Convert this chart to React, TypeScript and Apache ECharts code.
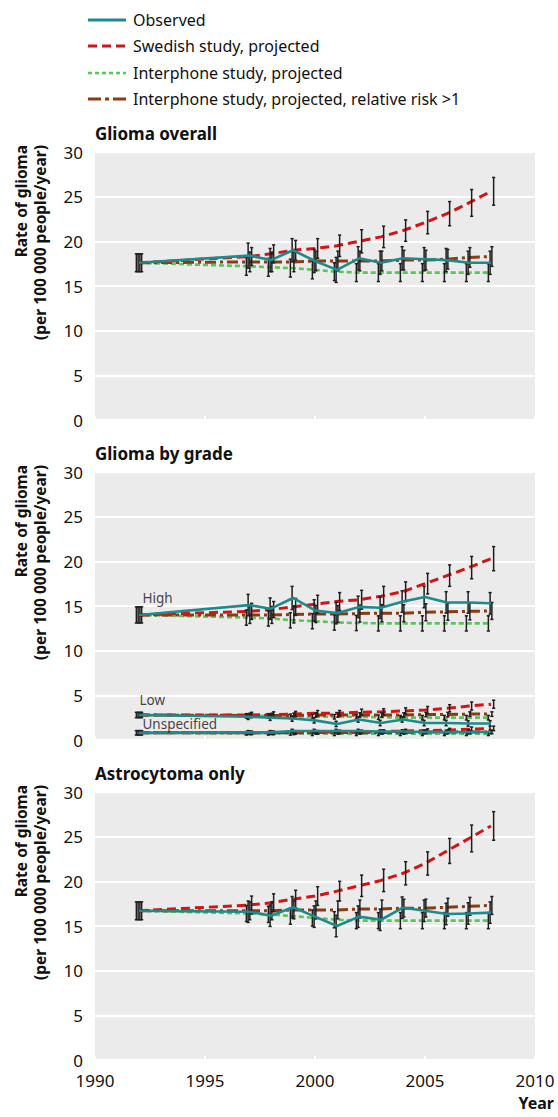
import React, { useEffect, useRef } from "react";
import * as echarts from "echarts";

const years = [1992, 1997, 1998, 1999, 2000, 2001, 2002, 2003, 2004, 2005, 2006, 2007, 2008];
const xTicks = [1990, 1995, 2000, 2005, 2010];
const yTicks = [0, 5, 10, 15, 20, 25, 30];

const legendNames = [
  "Observed",
  "Swedish study, projected",
  "Interphone study, projected",
  "Interphone study, projected, relative risk >1",
];
const panelTitles = ["Glioma overall", "Glioma by grade", "Astrocytoma only"];
const gradeLabels = ["High", "Low", "Unspecified"];

// Panel 1: glioma overall
const overallObserved = [17.6, 18.4, 17.9, 19.0, 17.8, 16.8, 18.1, 17.6, 18.1, 18.0, 17.9, 17.6, 17.6];
const overallSwedish = [17.6, 18.3, 18.6, 19.0, 19.2, 19.5, 20.0, 20.5, 21.2, 22.1, 23.1, 24.3, 25.6];
const overallInterphone = [17.6, 17.2, 17.1, 17.0, 16.8, 16.6, 16.5, 16.5, 16.5, 16.5, 16.5, 16.5, 16.5];
const overallInterphoneRR = [17.6, 17.7, 17.7, 17.7, 17.8, 17.8, 17.8, 17.8, 17.9, 17.9, 18.0, 18.2, 18.3];
const overallObservedCI = [1.0, 1.4, 1.3, 1.3, 1.3, 1.4, 1.3, 1.3, 1.3, 1.3, 1.3, 1.3, 1.3];
const overallSwedishCI = [1.0, 1.0, 1.0, 1.1, 1.1, 1.2, 1.3, 1.2, 1.2, 1.25, 1.35, 1.5, 1.55];
const overallInterphoneCI = [1.0, 1.0, 1.0, 1.0, 1.0, 1.0, 1.0, 1.0, 1.0, 1.0, 1.0, 1.0, 1.0];
const overallInterphoneRRCI = [1.0, 1.1, 1.1, 1.1, 1.1, 1.1, 1.1, 1.1, 1.1, 1.1, 1.1, 1.1, 1.1];

// Panel 2: glioma by grade
const highObserved = [14.0, 15.1, 14.7, 15.9, 14.5, 14.2, 14.9, 14.8, 15.5, 16.0, 15.4, 15.4, 15.3];
const highSwedish = [14.0, 14.4, 14.6, 14.9, 15.2, 15.5, 15.7, 16.1, 16.6, 17.5, 18.4, 19.3, 20.3];
const highInterphone = [14.0, 13.7, 13.6, 13.4, 13.3, 13.15, 13.1, 13.05, 13.05, 13.05, 13.05, 13.05, 13.05];
const highInterphoneRR = [14.0, 14.0, 14.0, 14.05, 14.1, 14.1, 14.15, 14.2, 14.2, 14.3, 14.35, 14.4, 14.45];
const highObservedCI = [0.9, 1.2, 1.2, 1.3, 1.2, 1.2, 1.2, 1.2, 1.2, 1.2, 1.2, 1.2, 1.2];
const highSwedishCI = [0.9, 0.9, 0.9, 0.95, 1.0, 1.0, 1.05, 1.1, 1.1, 1.15, 1.2, 1.25, 1.35];
const highInterphoneCI = [0.9, 0.85, 0.85, 0.85, 0.85, 0.85, 0.85, 0.85, 0.85, 0.85, 0.85, 0.85, 0.85];
const highInterphoneRRCI = [0.9, 0.95, 0.95, 0.95, 0.95, 0.95, 0.95, 0.95, 0.95, 0.95, 0.95, 0.95, 0.95];

const lowObserved = [2.8, 2.6, 2.5, 2.4, 2.2, 1.8, 2.3, 1.9, 2.3, 1.9, 1.9, 1.85, 1.85];
const lowSwedish = [2.8, 2.8, 2.85, 2.9, 3.0, 3.0, 3.1, 3.15, 3.25, 3.35, 3.55, 3.8, 4.0];
const lowInterphone = [2.8, 2.7, 2.7, 2.65, 2.6, 2.6, 2.6, 2.55, 2.5, 2.5, 2.5, 2.5, 2.5];
const lowInterphoneRR = [2.8, 2.75, 2.75, 2.75, 2.8, 2.8, 2.8, 2.8, 2.8, 2.85, 2.85, 2.9, 2.9];
const lowObservedCI = [0.3, 0.3, 0.3, 0.3, 0.3, 0.3, 0.3, 0.3, 0.3, 0.3, 0.3, 0.3, 0.3];
const lowSwedishCI = [0.3, 0.3, 0.3, 0.3, 0.3, 0.3, 0.35, 0.35, 0.35, 0.4, 0.4, 0.45, 0.45];
const lowInterphoneCI = [0.3, 0.25, 0.25, 0.25, 0.25, 0.25, 0.25, 0.25, 0.25, 0.25, 0.25, 0.25, 0.25];
const lowInterphoneRRCI = [0.3, 0.25, 0.25, 0.25, 0.25, 0.25, 0.25, 0.25, 0.25, 0.25, 0.25, 0.25, 0.25];

const unspecObserved = [0.8, 0.85, 0.85, 1.0, 1.0, 1.0, 1.0, 0.95, 0.95, 0.9, 0.9, 0.9, 0.9];
const unspecSwedish = [0.8, 0.8, 0.8, 0.85, 0.85, 0.9, 0.9, 0.95, 1.0, 1.05, 1.1, 1.2, 1.3];
const unspecInterphone = [0.8, 0.75, 0.75, 0.75, 0.7, 0.7, 0.7, 0.7, 0.7, 0.7, 0.7, 0.7, 0.7];
const unspecInterphoneRR = [0.8, 0.8, 0.8, 0.8, 0.85, 0.85, 0.85, 0.85, 0.85, 0.9, 0.9, 0.9, 0.9];
const unspecObservedCI = [0.25, 0.2, 0.2, 0.2, 0.2, 0.2, 0.2, 0.2, 0.2, 0.2, 0.2, 0.2, 0.2];
const unspecSwedishCI = [0.25, 0.2, 0.2, 0.2, 0.2, 0.2, 0.2, 0.2, 0.2, 0.2, 0.2, 0.25, 0.25];
const unspecInterphoneCI = [0.25, 0.2, 0.2, 0.2, 0.2, 0.2, 0.2, 0.2, 0.2, 0.2, 0.2, 0.2, 0.2];
const unspecInterphoneRRCI = [0.25, 0.2, 0.2, 0.2, 0.2, 0.2, 0.2, 0.2, 0.2, 0.2, 0.2, 0.2, 0.2];

// Panel 3: astrocytoma only
const astroObserved = [16.7, 16.6, 16.15, 17.1, 16.05, 15.0, 16.05, 15.7, 17.05, 16.7, 16.35, 16.4, 16.5];
const astroSwedish = [16.7, 17.35, 17.6, 18.0, 18.35, 18.9, 19.5, 20.1, 20.9, 22.0, 23.4, 24.8, 26.2];
const astroInterphone = [16.7, 16.4, 16.3, 16.1, 15.9, 15.7, 15.6, 15.6, 15.6, 15.6, 15.6, 15.6, 15.6];
const astroInterphoneRR = [16.7, 16.7, 16.7, 16.8, 16.8, 16.8, 16.9, 16.9, 17.0, 17.0, 17.1, 17.2, 17.3];
const astroObservedCI = [1.0, 1.2, 1.2, 1.2, 1.2, 1.2, 1.2, 1.2, 1.2, 1.2, 1.2, 1.2, 1.2];
const astroSwedishCI = [1.0, 1.0, 1.0, 1.0, 1.05, 1.1, 1.2, 1.25, 1.3, 1.3, 1.4, 1.5, 1.6];
const astroInterphoneCI = [1.0, 0.9, 0.9, 0.9, 0.9, 0.9, 0.9, 0.9, 0.9, 0.9, 0.9, 0.9, 0.9];
const astroInterphoneRRCI = [1.0, 1.0, 1.0, 1.0, 1.0, 1.0, 1.0, 1.0, 1.0, 1.0, 1.0, 1.0, 1.0];

const FONT = "Noto Sans";
const TEAL = "#1d8a8c";
const RED = "#d41414";
const GREEN = "#55c955";
const BROWN = "#8c3a10";
const BAR = "#1e1e1e";
const INK = "#111111";

type Group = {
  observed: number[]; swedish: number[]; inter: number[]; rr: number[];
  observedCI: number[]; swedishCI: number[]; interCI: number[]; rrCI: number[];
  label?: string; labelPos?: number[];
};

const panels: Group[][] = [
  [{ observed: overallObserved, swedish: overallSwedish, inter: overallInterphone, rr: overallInterphoneRR,
     observedCI: overallObservedCI, swedishCI: overallSwedishCI, interCI: overallInterphoneCI, rrCI: overallInterphoneRRCI }],
  [
    { observed: highObserved, swedish: highSwedish, inter: highInterphone, rr: highInterphoneRR,
      observedCI: highObservedCI, swedishCI: highSwedishCI, interCI: highInterphoneCI, rrCI: highInterphoneRRCI,
      label: gradeLabels[0], labelPos: [4, -16] },
    { observed: lowObserved, swedish: lowSwedish, inter: lowInterphone, rr: lowInterphoneRR,
      observedCI: lowObservedCI, swedishCI: lowSwedishCI, interCI: lowInterphoneCI, rrCI: lowInterphoneRRCI,
      label: gradeLabels[1], labelPos: [1, -14] },
    { observed: unspecObserved, swedish: unspecSwedish, inter: unspecInterphone, rr: unspecInterphoneRR,
      observedCI: unspecObservedCI, swedishCI: unspecSwedishCI, interCI: unspecInterphoneCI, rrCI: unspecInterphoneRRCI,
      label: gradeLabels[2], labelPos: [4, -8] },
  ],
  [{ observed: astroObserved, swedish: astroSwedish, inter: astroInterphone, rr: astroInterphoneRR,
     observedCI: astroObservedCI, swedishCI: astroSwedishCI, interCI: astroInterphoneCI, rrCI: astroInterphoneRRCI }],
];

const gridTops = [152, 472, 792];
const GRID_LEFT = 95;
const GRID_W = 440;
const GRID_H = 268;

const pairs = (vals: number[]) => years.map((y, i) => [y, vals[i]]);

function errorBarItem(params: any, api: any) {
  const x = api.value(0);
  const p1 = api.coord([x, api.value(1)]);
  const p2 = api.coord([x, api.value(2)]);
  const w = 1.6;
  const style = { stroke: BAR, lineWidth: 1.5 };
  return {
    type: "group",
    children: [
      { type: "line", shape: { x1: p1[0], y1: p1[1], x2: p2[0], y2: p2[1] }, style },
      { type: "line", shape: { x1: p1[0] - w, y1: p1[1], x2: p1[0] + w, y2: p1[1] }, style },
      { type: "line", shape: { x1: p2[0] - w, y1: p2[1], x2: p2[0] + w, y2: p2[1] }, style },
    ],
  };
}

export default function App() {
  const ref = useRef<HTMLDivElement>(null);
  useEffect(() => {
    if (!ref.current) return;
    const chart = echarts.init(ref.current, null, { renderer: "svg" });

    const grids = gridTops.map((top) => ({
      left: GRID_LEFT, top, width: GRID_W, height: GRID_H,
      show: true, backgroundColor: "#ebebeb", borderWidth: 0, containLabel: false,
    }));
    const xAxes = gridTops.map((_, i) => ({
      type: "value", gridIndex: i, min: xTicks[0], max: xTicks[xTicks.length - 1], interval: 5,
      axisLine: { show: false },
      axisTick: { show: true, inside: true, length: 4, lineStyle: { color: "#ffffff", width: 2 } },
      splitLine: { show: false },
      axisLabel: { show: i === 2, fontFamily: FONT, fontSize: 17, color: INK, margin: 12,
        formatter: (v: number) => String(v) },
    }));
    const yAxes = gridTops.map((_, i) => ({
      type: "value", gridIndex: i, min: yTicks[0], max: yTicks[yTicks.length - 1], interval: 5,
      axisLine: { show: false }, axisTick: { show: false },
      splitLine: { show: true, lineStyle: { color: "#ffffff", width: 2 } },
      axisLabel: { fontFamily: FONT, fontSize: 17, color: INK, margin: 12 },
    }));

    const series: any[] = [];
    panels.forEach((groups, pi) => {
      const bars: number[][] = [];
      groups.forEach((g) => {
        const common = { type: "line", xAxisIndex: pi, yAxisIndex: pi, symbol: "none", showSymbol: false, silent: true };
        series.push({ ...common, name: legendNames[2], data: pairs(g.inter), z: 2,
          lineStyle: { color: GREEN, width: 2.6, type: [5, 3] } });
        series.push({ ...common, name: legendNames[3], data: pairs(g.rr), z: 2,
          lineStyle: { color: BROWN, width: 3, type: [11, 4, 3, 4] } });
        series.push({ ...common, name: legendNames[1], data: pairs(g.swedish), z: 2,
          lineStyle: { color: RED, width: 3, type: [9, 5] } });
        series.push({ ...common, name: legendNames[0], data: pairs(g.observed), z: 5,
          lineStyle: { color: TEAL, width: 2.6 } });
        years.forEach((y, i) => {
          bars.push([y - 0.12, g.inter[i] - g.interCI[i], g.inter[i] + g.interCI[i]]);
          bars.push([y - 0.04, g.observed[i] - g.observedCI[i], g.observed[i] + g.observedCI[i]]);
          bars.push([y + 0.04, g.rr[i] - g.rrCI[i], g.rr[i] + g.rrCI[i]]);
          bars.push([y + 0.12, g.swedish[i] - g.swedishCI[i], g.swedish[i] + g.swedishCI[i]]);
        });
        if (g.label) {
          series.push({
            type: "scatter", xAxisIndex: pi, yAxisIndex: pi, symbolSize: 1, silent: true, z: 6,
            itemStyle: { color: "rgba(0,0,0,0)" },
            data: [[years[0], g.observed[0]]],
            label: { show: true, formatter: g.label, position: g.labelPos, align: "left", verticalAlign: "middle",
              fontFamily: FONT, fontSize: 13.5, color: INK },
          });
        }
      });
      series.push({
        type: "custom", xAxisIndex: pi, yAxisIndex: pi, renderItem: errorBarItem, data: bars, z: 4,
        encode: { x: 0, y: [1, 2] }, silent: true,
      });
    });

    const legendRows = [20, 46, 73, 99];
    const legendStyles = [
      { stroke: TEAL, lineWidth: 3 },
      { stroke: RED, lineWidth: 3, lineDash: [9, 5] },
      { stroke: GREEN, lineWidth: 2.6, lineDash: [4, 3] },
      { stroke: BROWN, lineWidth: 3, lineDash: [13, 4, 4, 4] },
    ];
    const graphics: any[] = [];
    legendNames.forEach((name, i) => {
      graphics.push({ type: "line", shape: { x1: 88, y1: legendRows[i], x2: 126, y2: legendRows[i] }, style: legendStyles[i] });
      graphics.push({ type: "text", x: 133, y: legendRows[i],
        style: { text: name, fontFamily: FONT, fontSize: 16, fill: INK, textVerticalAlign: "middle", textAlign: "left" } });
    });
    panelTitles.forEach((t, i) => {
      graphics.push({ type: "text", x: GRID_LEFT, y: gridTops[i] - 19,
        style: { text: t, fontFamily: FONT, fontSize: 17, fontWeight: "bold", fill: INK, textVerticalAlign: "middle" } });
      graphics.push({ type: "text", x: 21, y: gridTops[i] - 7, rotation: Math.PI / 2,
        style: { text: "Rate of glioma", fontFamily: FONT, fontSize: 15.5, fontWeight: "bold", fill: INK,
          textAlign: "right", textVerticalAlign: "middle" } });
      graphics.push({ type: "text", x: 40, y: gridTops[i] - 7, rotation: Math.PI / 2,
        style: { text: "(per 100 000 people/year)", fontFamily: FONT, fontSize: 15.5, fontWeight: "bold", fill: INK,
          textAlign: "right", textVerticalAlign: "middle" } });
    });
    graphics.push({ type: "text", x: 554, y: 1103,
      style: { text: "Year", fontFamily: FONT, fontSize: 16, fontWeight: "bold", fill: INK,
        textAlign: "right", textVerticalAlign: "middle" } });

    chart.setOption({
      animation: false,
      textStyle: { fontFamily: FONT },
      grid: grids,
      xAxis: xAxes,
      yAxis: yAxes,
      series,
      graphic: graphics,
    });
    return () => chart.dispose();
  }, []);
  return <div ref={ref} style={{ position: "absolute", left: 0, top: 0, width: 558, height: 1117, background: "#fff" }} />;
}
